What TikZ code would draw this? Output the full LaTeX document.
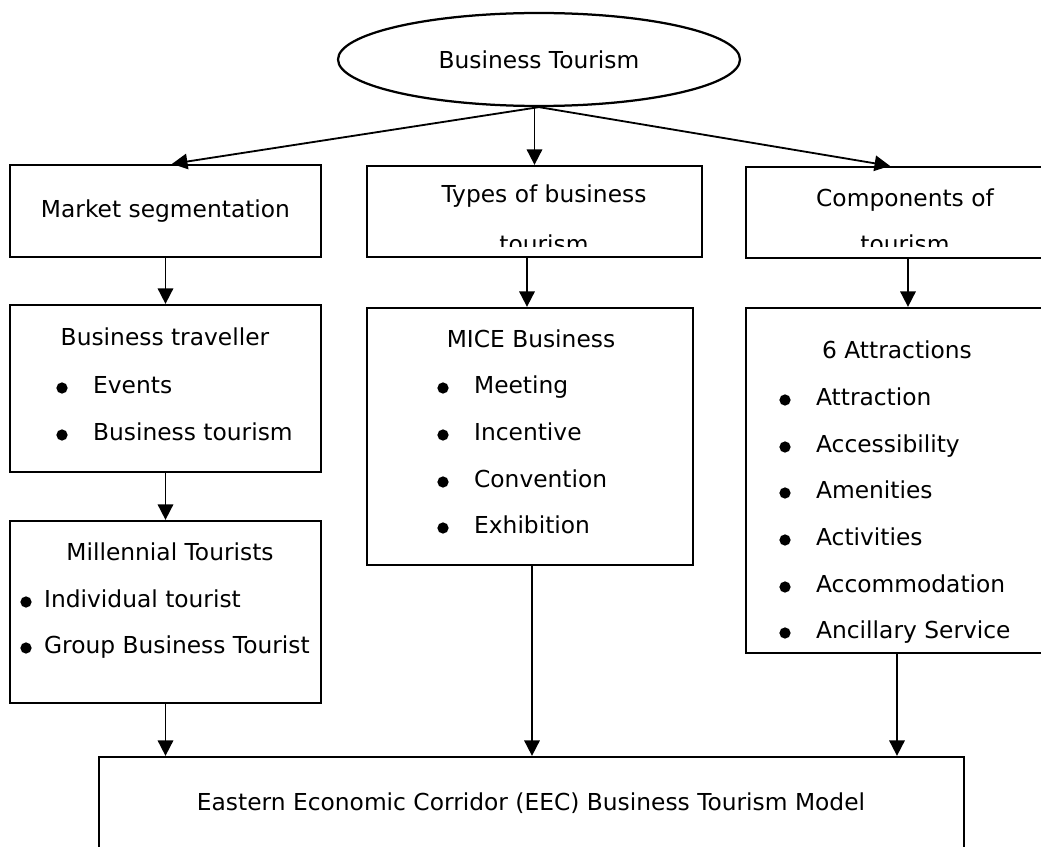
\documentclass[tikz,border=0pt]{standalone}
\usepackage{fontspec}
\setmainfont{DejaVu Sans}
\usetikzlibrary{shapes.geometric, arrows.meta}

\begin{document}
\begin{tikzpicture}[
		x=0.025cm,
		y=-0.025cm,
		line width=1.6pt,
		every node/.style={font=\fontsize{16.6}{20}\selectfont},
		size/.style 2 args={minimum width=#1*0.025cm, minimum height=#2*0.025cm},
		box/.style={draw, rectangle, inner sep=0pt},
		txt/.style={inner sep=0pt, text height=0.73em, text depth=0pt},
		item/.style={txt, anchor=west},
		arr/.style={line width=1.3pt, -{Triangle[length=11pt, width=11pt]}}
		]

	\useasboundingbox (0, 0) rectangle (1041, 847);
	\clip (0, 0) rectangle (1041, 847);

	% Top
	\node[draw, ellipse, size={402}{93}, inner sep=0pt] (tourism) at (539, 59.5) {Business Tourism};

	% First row
	\node[box, size={311}{92}] (market) at (165.5, 211) {Market segmentation};
	\node[box, size={335}{91}] (types) at (534.5, 211.5) {};
	\node[box, size={318}{91}] (components) at (905, 212.5) {};
	\node[txt] (types-1) at (544, 197.5) {Types of business};
	\node[txt] (components-1) at (905, 201) {Components of};
	\begin{scope}
		\clip (367, 166) rectangle (1041, 247);
		\node[txt, anchor=base] (types-2) at (544, 253) {tourism};
		\node[txt, anchor=base] (components-2) at (905, 253) {tourism};
	\end{scope}

	% Second row
	\node[box, size={311}{167}] (travel) at (165.5, 388.5) {};
	\node[box, size={326}{257}] (mice) at (530, 436.5) {};
	\node[box, size={302}{345}] (attractions) at (897, 480.5) {};
	\node[txt] (travel-title) at (165, 340) {Business traveller};
	\node[txt] (mice-title) at (531, 342) {MICE Business};
	\node[txt] (attractions-title) at (897, 353) {6 Attractions};

	\foreach \y/\label [count=\i] in {388/Events, 435/Business tourism}{
		\fill (62, \y) circle (4pt);
		\node[item] (travel-\i) at (92, \y) {\label};
	}
	\foreach \y/\label [count=\i] in {388/Meeting, 435/Incentive, 482/Convention, 528/Exhibition}{
		\fill (443, \y) circle (4pt);
		\node[item] (mice-\i) at (473, \y) {\label};
	}
	\foreach \y/\label [count=\i] in {400/Attraction, 447/Accessibility, 493/Amenities, 540/Activities, 587/Accommodation, 633/Ancillary Service}{
		\fill (785, \y) circle (4pt);
		\node[item] (attractions-\i) at (815, \y) {\label};
	}

	% Third row
	\node[box, size={311}{182}] (millennial) at (165.5, 612) {};
	\node[txt] (millennial-title) at (170, 555) {Millennial Tourists};
	\foreach \y/\label [count=\i] in {602/Individual tourist, 648/Group Business Tourist}{
		\fill (26, \y) circle (4pt);
		\node[item] (millennial-\i) at (43, \y) {\label};
	}

	% Model
	\node[box, size={865}{113}] (eec) at (531.5, 813.5) {};
	\node[txt] (eec-title) at (531, 805) {Eastern Economic Corridor (EEC) Business Tourism Model};

	% Arrows
	\draw[arr] (tourism.south) -- ([shift={(6.5,0)}]market.north);
	\draw[arr] (tourism.south -| types.north) -- (types.north);
	\draw[arr] (tourism.south) -- ([shift={(-15,0)}]components.north);
	\draw[arr] (market) -- (travel);
	\draw[arr] (travel) -- (millennial);
	\draw[arr] (millennial.south) -- (millennial.south |- eec.north);
	\draw[arr] ([shift={(-7.5,0)}]types.south) -- ([shift={(-3,0)}]mice.north);
	\draw[arr] ([shift={(2,0)}]mice.south) -- ([shift={(2,0)}]mice.south |- eec.north);
	\draw[arr] ([shift={(3,0)}]components.south) -- ([shift={(11,0)}]attractions.north);
	\draw[arr] (attractions.south) -- (attractions.south |- eec.north);

\end{tikzpicture}
\end{document}
